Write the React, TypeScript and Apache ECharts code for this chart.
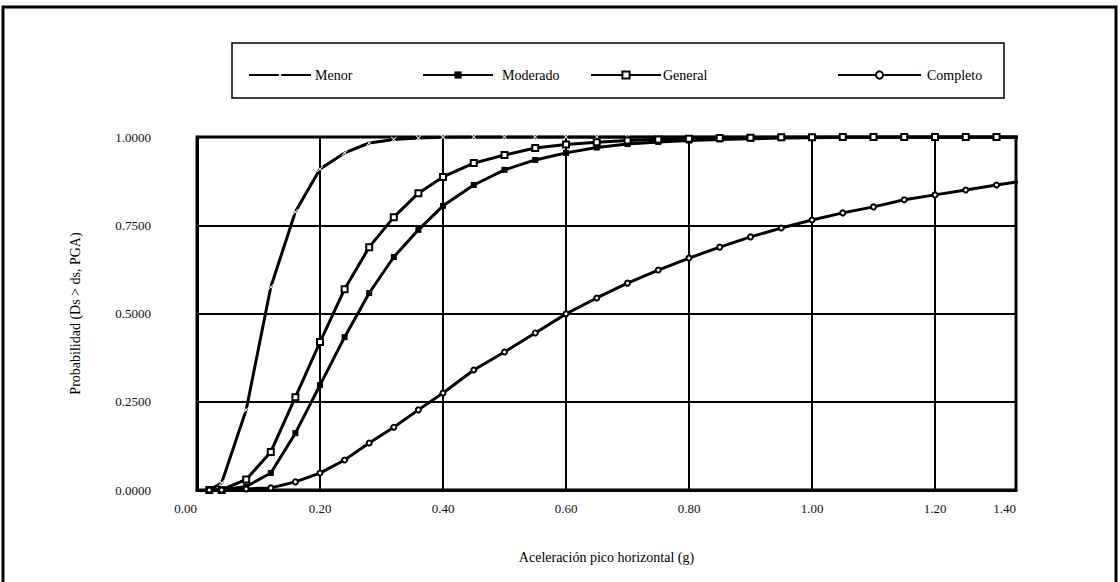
import React, { useEffect, useRef } from "react";
import * as echarts from "echarts";

// PGA values (g) of the points on each curve
const xValues = [
  0.02, 0.04, 0.08, 0.12, 0.16, 0.2, 0.24, 0.28, 0.32, 0.36, 0.4,
  0.45, 0.5, 0.55, 0.6, 0.65, 0.7, 0.75, 0.8, 0.85, 0.9, 0.95, 1.0,
  1.05, 1.1, 1.15, 1.2, 1.25, 1.3, 1.35,
];

const menor = [
  0, 0.02, 0.227, 0.575, 0.788, 0.909, 0.955, 0.983, 0.993, 0.997, 0.999,
  1, 1, 1, 1, 1, 1, 1, 1, 1, 1, 1, 1, 1, 1, 1, 1, 1, 1, 1,
];
const moderado = [
  0, 0, 0.01, 0.048, 0.161, 0.297, 0.433, 0.558, 0.66, 0.737, 0.805,
  0.864, 0.907, 0.935, 0.955, 0.97, 0.98, 0.986, 0.99, 0.993, 0.995, 0.997,
  0.998, 0.999, 0.999, 1, 1, 1, 1, 1,
];
const general = [
  0, 0, 0.03, 0.108, 0.263, 0.419, 0.569, 0.688, 0.773, 0.841, 0.887,
  0.926, 0.949, 0.969, 0.979, 0.985, 0.99, 0.993, 0.995, 0.997, 0.998, 0.999,
  0.999, 1, 1, 1, 1, 1, 1, 1,
];
const completo = [
  0, 0, 0.003, 0.006, 0.023, 0.048, 0.085, 0.133, 0.178, 0.227, 0.275,
  0.34, 0.391, 0.445, 0.499, 0.544, 0.586, 0.623, 0.657, 0.688, 0.717, 0.742,
  0.765, 0.785, 0.802, 0.822, 0.836, 0.85, 0.864, 0.877,
];

const xTickLabels = ["0.00", "0.20", "0.40", "0.60", "0.80", "1.00", "1.20", "1.40"];
const yTickLabels = ["0.0000", "0.2500", "0.5000", "0.7500", "1.0000"];

const xTitle = "Aceleración pico horizontal (g)";
const yTitle = "Probabilidad (Ds > ds, PGA)";

const FONT = "'Liberation Serif', 'DejaVu Serif', serif";
const X_MAX = 1.3317;

const crossPath =
  "path://M0 1L1 0L5 4L9 0L10 1L6 5L10 9L9 10L5 6L1 10L0 9L4 5Z";

function pairs(ys: number[]) {
  return xValues.map((x, i) => [x, ys[i]]);
}

export default function App() {
  const ref = useRef<HTMLDivElement>(null);

  useEffect(() => {
    if (!ref.current) return;
    const chart = echarts.init(ref.current, undefined, { renderer: "svg" });

    const lineBase = {
      type: "line",
      showSymbol: true,
      clip: true,
      lineStyle: { color: "#000", width: 3 },
      z: 3,
    };

    const legendBase = (name: string, left: number, width: number, gap: number) => ({
      data: [name],
      left,
      top: 63,
      itemWidth: width,
      itemHeight: 9,
      itemGap: 0,
      textStyle: { fontFamily: FONT, fontSize: 14, color: "#000", padding: [0, 0, 0, gap - 11] },
      selectedMode: false,
    });

    chart.setOption({
      animation: false,
      backgroundColor: "#fff",
      graphic: [
        {
          type: "rect",
          shape: { x: 3, y: 7, width: 1113, height: 580 },
          style: { fill: "none", stroke: "#000", lineWidth: 3 },
          silent: true,
        },
        {
          type: "rect",
          shape: { x: 232, y: 43, width: 772, height: 55 },
          style: { fill: "none", stroke: "#000", lineWidth: 1.5 },
          silent: true,
        },
      ],
      legend: [
        legendBase("Menor", 243, 62, 10),
        legendBase("Moderado", 417, 70, 15),
        legendBase("General", 585, 70, 8),
        legendBase("Completo", 832, 83, 12),
      ],
      grid: {
        left: 197,
        top: 137,
        width: 819,
        height: 353,
        show: true,
        borderColor: "#000",
        borderWidth: 3,
        backgroundColor: "#fff",
      },
      xAxis: {
        type: "value",
        min: 0,
        max: X_MAX,
        interval: 0.2,
        name: xTitle,
        nameLocation: "middle",
        nameGap: 60,
        nameTextStyle: { fontFamily: FONT, fontSize: 14, color: "#000" },
        axisLine: { show: true, lineStyle: { color: "#000", width: 3 } },
        axisTick: { show: false },
        splitLine: { show: true, lineStyle: { color: "#000", width: 2 } },
        axisLabel: {
          fontFamily: FONT,
          fontSize: 13,
          color: "#111",
          margin: 12,
          showMaxLabel: true,
          showMinLabel: true,
          alignMinLabel: "right",
          alignMaxLabel: "right",
          formatter: (v: number) => xTickLabels[Math.min(Math.round(v / 0.2), xTickLabels.length - 1)],
        },
      },
      yAxis: {
        type: "value",
        min: 0,
        max: 1,
        interval: 0.25,
        name: yTitle,
        nameLocation: "middle",
        nameGap: 115,
        nameTextStyle: { fontFamily: FONT, fontSize: 14, color: "#000" },
        axisLine: { show: true, lineStyle: { color: "#000", width: 3 } },
        axisTick: { show: false },
        splitLine: { show: true, lineStyle: { color: "#000", width: 2 } },
        axisLabel: {
          fontFamily: FONT,
          fontSize: 13,
          color: "#111",
          margin: 46,
          formatter: (v: number) => yTickLabels[Math.round(v / 0.25)],
        },
      },
      series: [
        {
          ...lineBase,
          name: "Menor",
          data: pairs(menor),
          symbol: crossPath,
          symbolSize: 6,
          itemStyle: { color: "#fff", borderWidth: 0 },
          lineStyle: { color: "#000", width: 3 },
        },
        {
          ...lineBase,
          name: "Moderado",
          data: pairs(moderado),
          symbol: "rect",
          symbolSize: 6,
          itemStyle: { color: "#000" },
        },
        {
          ...lineBase,
          name: "General",
          data: pairs(general),
          symbol: "emptyRect",
          symbolSize: 6,
          itemStyle: { color: "#000", borderWidth: 1.5 },
        },
        {
          ...lineBase,
          name: "Completo",
          data: pairs(completo),
          symbol: "emptyCircle",
          symbolSize: 5,
          itemStyle: { color: "#000", borderWidth: 1.5 },
        },
      ],
    });

    return () => chart.dispose();
  }, []);

  return (
    <div
      ref={ref}
      style={{ position: "fixed", left: 0, top: 0, width: 1120, height: 582, background: "#fff" }}
    />
  );
}
